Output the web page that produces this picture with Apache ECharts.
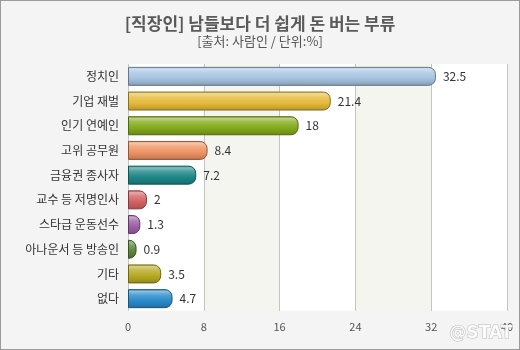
<!DOCTYPE html>
<html>
<head>
<meta charset="utf-8">
<script src="https://cdn.jsdelivr.net/npm/echarts@6/dist/echarts.min.js"></script>
<style>
html,body{margin:0;padding:0;background:#f4f4f4;}
#c{width:520px;height:350px;box-sizing:border-box;border:1px solid #9a9a9a;background:#f4f4f4;}
</style>
</head>
<body>
<div id="c"></div>
<script>
const categories = ['정치인','기업 재벌','인기 연예인','고위 공무원','금융권 종사자','교수 등 저명인사','스타급 운동선수','아나운서 등 방송인','기타','없다'];
const values = [32.5, 21.4, 18, 8.4, 7.2, 2, 1.3, 0.9, 3.5, 4.7];
const xTicks = [0, 8, 16, 24, 32, 40];
const titleText = '[직장인] 남들보다 더 쉽게 돈 버는 부류';
const subText = '[출처: 사람인 / 단위:%]';

const baseColors = ['#a6c4e2','#e5ba38','#85ab1c','#ee9363','#1e8787','#d46164','#9e5fa8','#5d873b','#b6aa22','#2a8bcb'];

function shade(hex, f){
  let r=parseInt(hex.slice(1,3),16), g=parseInt(hex.slice(3,5),16), b=parseInt(hex.slice(5,7),16);
  if(f>=0){ r=r+(255-r)*f; g=g+(255-g)*f; b=b+(255-b)*f; }
  else { r=r*(1+f); g=g*(1+f); b=b*(1+f); }
  return 'rgb('+Math.round(r)+','+Math.round(g)+','+Math.round(b)+')';
}
function grad(c){
  return new echarts.graphic.LinearGradient(0,0,0,1,[
    {offset:0, color:shade(c,0.05)},
    {offset:0.12, color:shade(c,0.45)},
    {offset:0.3, color:shade(c,0.2)},
    {offset:0.6, color:c},
    {offset:0.85, color:shade(c,-0.12)},
    {offset:1, color:shade(c,-0.25)}
  ]);
}

const chart = echarts.init(document.getElementById('c'), null, {renderer:'canvas'});
const font = '"Noto Sans CJK KR", "Noto Sans", sans-serif';
chart.setOption({
  animation:false,
  backgroundColor:'#f4f4f4',
  textStyle:{fontFamily:font},
  title:{
    text:titleText,
    subtext:subText,
    left:'center',
    top:9,
    itemGap:3,
    textStyle:{fontSize:17,fontWeight:'bold',color:'#5a5a5a',fontFamily:font},
    subtextStyle:{fontSize:13,color:'#555',fontFamily:font}
  },
  grid:{left:127,right:12,top:63,bottom:38,show:true,backgroundColor:'#ffffff',borderWidth:0},
  xAxis:{
    type:'value',min:xTicks[0],max:xTicks[xTicks.length-1],interval:8,
    axisLine:{show:false},axisTick:{show:false},
    axisLabel:{color:'#555',fontSize:11,margin:10,fontFamily:font},
    splitLine:{show:true,lineStyle:{color:'#c4c4c4',width:1}},
    splitArea:{show:true,areaStyle:{color:['#ffffff','#f5f5f0']}}
  },
  yAxis:{
    type:'category',data:categories,inverse:true,
    axisLine:{show:false},axisTick:{show:false},
    axisLabel:{color:'#333',fontSize:12,margin:9,fontFamily:font}
  },
  series:[{
    type:'bar',
    data:values.map((v,i)=>({value:v,itemStyle:{color:grad(baseColors[i]),borderColor:shade(baseColors[i],-0.4),borderWidth:1}})),
    barWidth:19,
    itemStyle:{borderRadius:[0,7,7,0]},
    label:{show:true,position:'right',distance:7,color:'#333',fontSize:12,fontFamily:font}
  }],
  graphic:[{
    type:'text',right:6,bottom:6,z:100,
    style:{text:'@STAT',fill:'rgba(255,255,255,0.85)',font:'bold 17px "DejaVu Sans", sans-serif',
      stroke:'rgba(150,150,150,0.6)',lineWidth:1,shadowColor:'rgba(0,0,0,0.35)',shadowBlur:2}
  }]
});
</script>
</body>
</html>
